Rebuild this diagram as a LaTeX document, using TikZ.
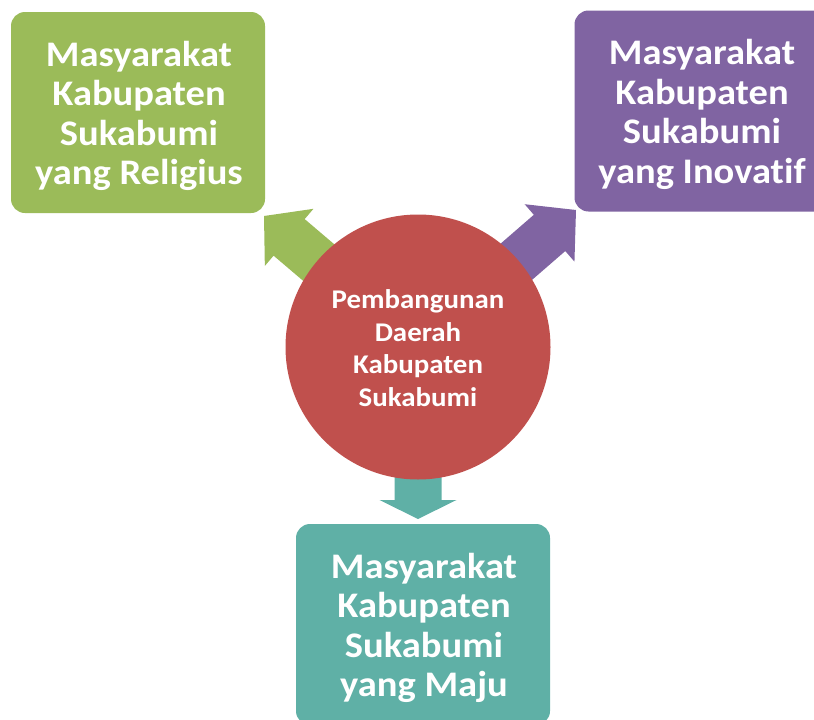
\documentclass[tikz,border=0pt]{standalone}
\usepackage{fontspec}
\newfontfamily\calb{Carlito}[FakeStretch=1.07, Ligatures=NoCommon]
\usetikzlibrary{calc}
\definecolor{cgreen}{HTML}{9BBB59}
\definecolor{cpurple}{HTML}{8064A2}
\definecolor{cteal}{HTML}{5FB0A6}
\definecolor{cred}{HTML}{C0504D}
\tikzset{
  goalbox/.style={rounded corners=14pt, minimum width=254pt, minimum height=201pt,
    inner sep=0pt},
  goaltext/.style={inner sep=0pt, align=center, text=white,
    font=\calb\bfseries\fontsize{36}{39.5}\selectfont}
}
\begin{document}
\begin{tikzpicture}[x=1pt,y=-1pt]
\useasboundingbox (0,0) rectangle (814,720);
\clip (0,0) rectangle (814,720);
\coordinate (C) at (418,347);
% green arrow (NW)
\coordinate (gT) at (264,216);
\coordinate (gB) at ($(gT)!33pt!(C)$);
\coordinate (gS) at ($(C)!0.4!(gB)$);
\fill[cgreen] ($(gS)!24pt!90:(gB)$) -- ($(gB)!24pt!90:(gT)$) -- ($(gB)!37.5pt!90:(gT)$) -- (gT)
  -- ($(gB)!37.5pt!-90:(gT)$) -- ($(gB)!24pt!-90:(gT)$) -- ($(gS)!24pt!-90:(gB)$) -- cycle;
% purple arrow (NE)
\coordinate (pT) at (576,210);
\coordinate (pB) at ($(pT)!35pt!(C)$);
\coordinate (pS) at ($(C)!0.4!(pB)$);
\fill[cpurple] ($(pS)!24pt!90:(pB)$) -- ($(pB)!24pt!90:(pT)$) -- ($(pB)!38pt!90:(pT)$) -- (pT)
  -- ($(pB)!38pt!-90:(pT)$) -- ($(pB)!24pt!-90:(pT)$) -- ($(pS)!24pt!-90:(pB)$) -- cycle;
% teal arrow (S)
\coordinate (tT) at (418,519);
\coordinate (tB) at ($(tT)!19pt!(C)$);
\coordinate (tS) at ($(C)!0.4!(tB)$);
\fill[cteal] ($(tS)!23.5pt!90:(tB)$) -- ($(tB)!23.5pt!90:(tT)$) -- ($(tB)!38.5pt!90:(tT)$) -- (tT)
  -- ($(tB)!38.5pt!-90:(tT)$) -- ($(tB)!23.5pt!-90:(tT)$) -- ($(tS)!23.5pt!-90:(tB)$) -- cycle;
% centre circle
\node[circle, fill=cred, minimum size=265pt, inner sep=0pt] (hub) at (C) {};
\node[align=center, text=white, inner sep=0pt,
  font=\calb\bfseries\fontsize{27}{32.5}\selectfont] (hubtext) at (418,348)
  {Pembangunan\\Daerah\\Kabupaten\\Sukabumi};
% goal boxes
\node[goalbox, fill=cgreen] (rel) at (138,112.5) {};
\node[goaltext] (reltext) at (139,116) {Masyarakat\\Kabupaten\\Sukabumi\\yang Religius};
\node[goalbox, fill=cpurple] (ino) at (701.5,111) {};
\node[goaltext] (inotext) at (702,114.5) {Masyarakat\\Kabupaten\\Sukabumi\\yang Inovatif};
\node[goalbox, fill=cteal] (maj) at (423,624.5) {};
\node[goaltext] (majtext) at (424,628) {Masyarakat\\Kabupaten\\Sukabumi\\yang Maju};
\end{tikzpicture}
\end{document}
